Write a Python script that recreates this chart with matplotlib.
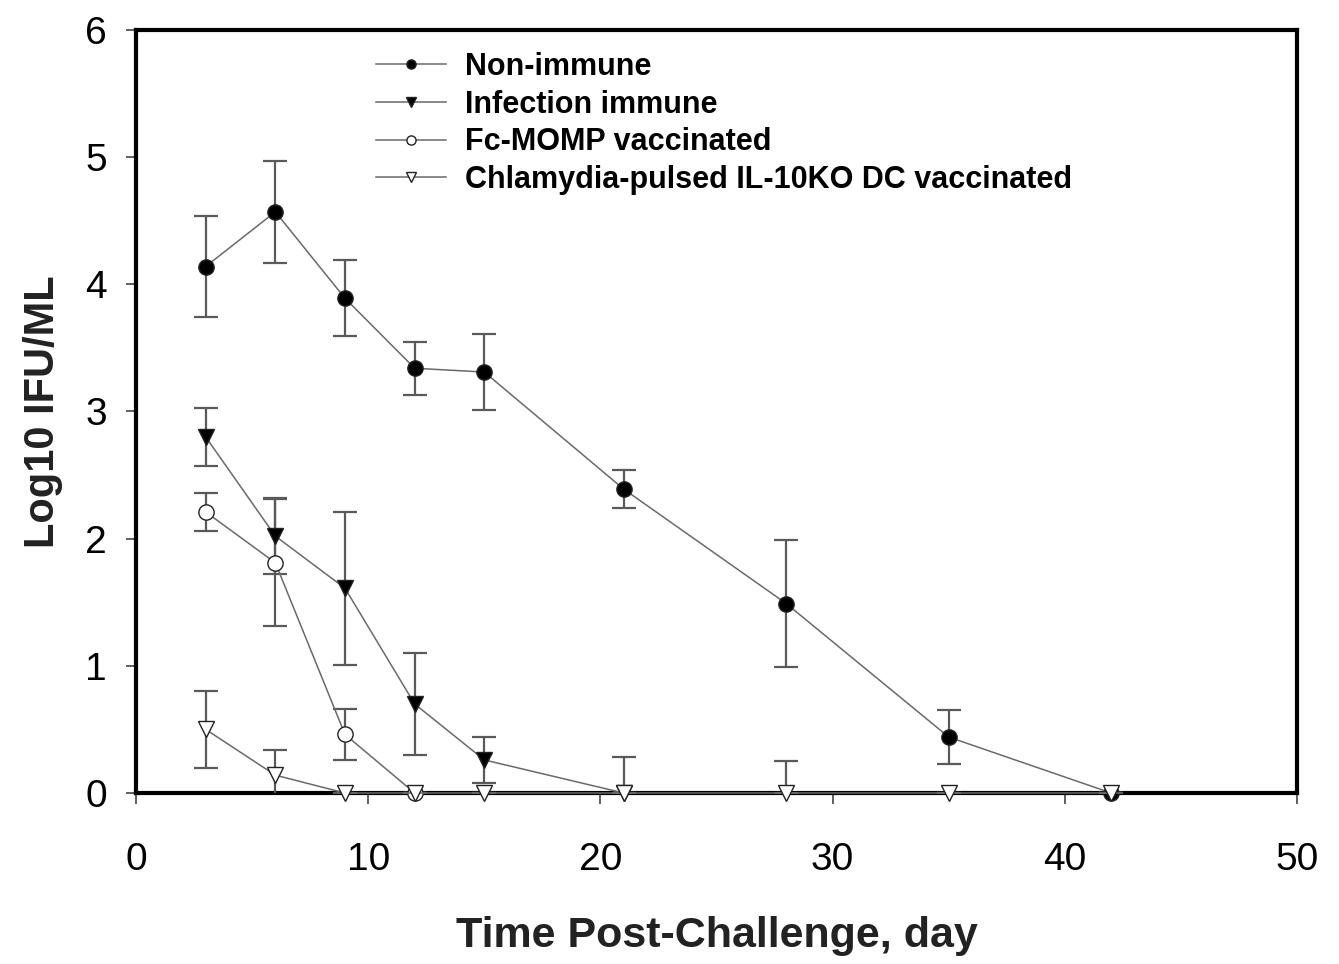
import matplotlib
matplotlib.use("Agg")
import matplotlib.pyplot as plt
import numpy as np

plt.rcParams['font.family'] = ['Liberation Sans', 'DejaVu Sans']
plt.rcParams['mathtext.default'] = 'regular'

# data (log10 IFU/ml, mean +/- error)
days = np.array([3, 6, 9, 12, 15, 21, 28, 35, 42])

non_immune = np.array([4.14, 4.57, 3.89, 3.34, 3.31, 2.39, 1.49, 0.44, 0.0])
non_immune_err = np.array([0.40, 0.40, 0.30, 0.21, 0.30, 0.15, 0.50, 0.21, 0.0])

inf_days = np.array([3, 6, 9, 12, 15, 21])
infection_immune = np.array([2.80, 2.02, 1.61, 0.70, 0.26, 0.0])
infection_err = np.array([0.23, 0.30, 0.60, 0.40, 0.18, 0.0])

fc_days = np.array([3, 6, 9, 12])
fc_momp = np.array([2.21, 1.81, 0.46, 0.0])
fc_err = np.array([0.15, 0.50, 0.20, 0.0])

il10_days = np.array([3, 6, 9, 12, 15, 21, 28, 35, 42])
il10_dc = np.array([0.50, 0.14, 0.0, 0.0, 0.0, 0.0, 0.0, 0.0, 0.0])
il10_err_low = np.array([0.30, 0.20, 0.0, 0.0, 0.0, 0.0, 0.0, 0.0, 0.0])
il10_err_up = np.array([0.30, 0.20, 0.0, 0.0, 0.0, 0.28, 0.25, 0.0, 0.0])

labels = ["Non-immune", "Infection immune", "Fc-MOMP vaccinated",
          "Chlamydia-pulsed IL-10KO DC vaccinated"]

fig = plt.figure(figsize=(13.39, 9.64), dpi=100)
ax = fig.add_axes([0.1016, 0.1774, 0.8670, 0.7915])

line_col = '#6a6a6a'
err_col = '#5a5a5a'
ms = 11

series = [
    (days, non_immune, [non_immune_err, non_immune_err], 'o', 'black'),
    (inf_days, infection_immune, [infection_err, infection_err], 'v', 'black'),
    (fc_days, fc_momp, [fc_err, fc_err], 'o', 'white'),
    (il10_days, il10_dc, [il10_err_low, il10_err_up], 'v', 'white'),
]

handles = []
for i, (x, y, yerr, mk, face) in enumerate(series):
    ax.errorbar(x, y, yerr=yerr, fmt='none', ecolor=err_col, elinewidth=1.6,
                capsize=8.5, capthick=1.6, zorder=3 + i)
    h, = ax.plot(x, y, color=line_col, lw=1.1, marker=mk, ms=ms,
                 mfc=face, mec='#222222', mew=1.0, clip_on=False, zorder=5 + i)
    handles.append(h)

ax.set_xlim(0, 50)
ax.set_ylim(0, 6)
ax.set_xticks([0, 10, 20, 30, 40, 50])
ax.set_yticks([0, 1, 2, 3, 4, 5, 6])

for s in ax.spines.values():
    s.set_linewidth(3)
    s.set_color('black')

ax.tick_params(axis='x', direction='out', length=8, width=1.2, pad=27,
               labelsize=28, color='#444444')
ax.tick_params(axis='y', direction='out', length=7, width=1.2, pad=14,
               labelsize=28, color='#444444')

ax.set_xlabel("Time Post-Challenge, day", fontsize=31, fontweight='bold',
              labelpad=28, color='#222222')
ax.set_ylabel("Log10 IFU/ML", fontsize=30, fontweight='bold', labelpad=16,
              color='#222222')

leg = ax.legend(handles, labels, loc='upper left', bbox_to_anchor=(0.191, 0.995),
                frameon=False, handlelength=2.3, handletextpad=0.6,
                labelspacing=0.25, markerscale=0.6, borderaxespad=0.2,
                prop={'family': ['Liberation Sans', 'DejaVu Sans'],
                      'weight': 'bold', 'size': 22})

fig.savefig("out.png", dpi=100)
